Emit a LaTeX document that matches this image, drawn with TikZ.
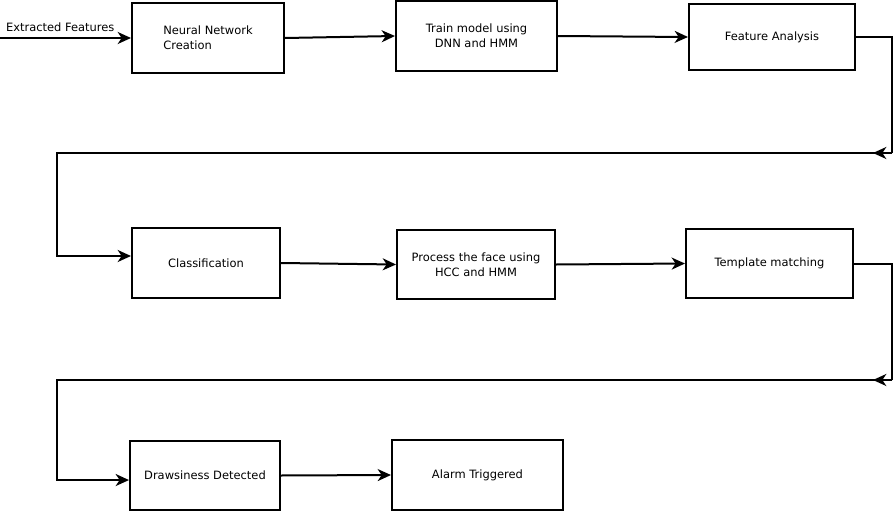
\documentclass[tikz,border=0pt]{standalone}
\usepackage{fontspec}
\setmainfont{DejaVu Sans}
\usetikzlibrary{arrows.meta}

\begin{document}
\begin{tikzpicture}[x=0.75pt, y=-0.75pt,
		>={Stealth[length=10pt,width=9pt,inset=3pt]},   % Pfeilspitzen
		line width=1.5pt,
		font=\fontsize{8.6}{11}\selectfont,
		box/.style={draw, line width=1.5pt, inner sep=2pt, align=center}]
		\useasboundingbox (0,0) rectangle (894,511);
		% erste Reihe
		\node[box, minimum width=114pt, minimum height=52.5pt, align=left] (nn) at (208,38) {Neural Network\\Creation};
		\node[box, minimum width=120.75pt, minimum height=52.5pt] (tm1) at (476.5,36) {Train model using\\DNN and HMM};
		\node[box, minimum width=124.5pt, minimum height=49.5pt] (fa) at (772,37) {Feature Analysis};
		% zweite Reihe
		\node[box, minimum width=111pt, minimum height=52.5pt] (cl) at (206,263) {Classification};
		\node[box, minimum width=118.5pt, minimum height=51.75pt] (pf) at (476,264.5) {Process the face using\\HCC and HMM};
		\node[box, minimum width=125.25pt, minimum height=51.75pt] (tm) at (769.5,263.5) {Template matching};
		% dritte Reihe
		\node[box, minimum width=112.5pt, minimum height=51.75pt] (dd) at (205,475.5) {Drawsiness Detected};
		\node[box, minimum width=128.25pt, minimum height=52.5pt] (at) at (477.5,475) {Alarm Triggered};
		% Eingang
		\coordinate (in) at (0,38);
		\draw[->] (in) -- (nn.west) node[pos=0.46, above=1pt] {Extracted Features};
		% Pfeile in den Reihen
		\draw[->] (nn.east) -- (tm1.west);
		\draw[->] (tm1.east) -- (fa.west);
		\draw[->] (cl.east) -- (pf.west);
		\draw[->] (pf.east) -- (tm.west);
		\draw[->] (dd.east) -- (at.west);
		% Rueckfuehrungen
		\coordinate (r1) at (892,153);
		\coordinate (l1) at (57,153);
		\draw (fa.east) -| (r1);
		\draw[->] (r1) -- ++(-19,0);
		\draw[->] (r1) -- (l1) |- ([yshift=5.25pt]cl.west);
		\coordinate (r2) at (892,380);
		\coordinate (l2) at (57,380);
		\draw (tm.east) -| (r2);
		\draw[->] (r2) -- ++(-19,0);
		\draw[->] (r2) -- (l2) |- ([yshift=-3.4pt]dd.west);
	\end{tikzpicture}
\end{document}
